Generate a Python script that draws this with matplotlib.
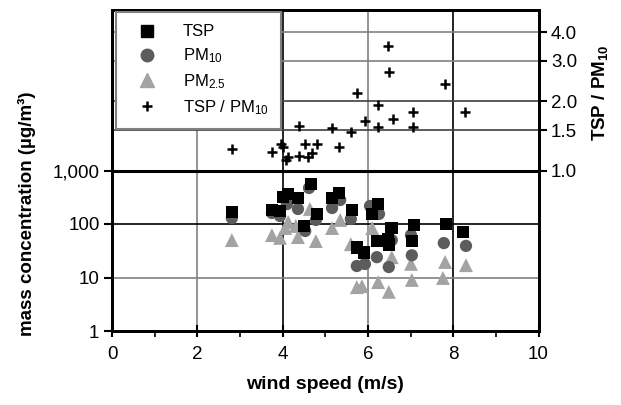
import matplotlib
matplotlib.use("Agg")
import matplotlib.pyplot as plt
from matplotlib.ticker import FixedLocator, FixedFormatter, NullLocator
from matplotlib.lines import Line2D

plt.rcParams['font.family'] = ['Liberation Sans', 'DejaVu Sans']
plt.rcParams['mathtext.fontset'] = 'custom'
plt.rcParams['mathtext.rm'] = 'Liberation Sans'
plt.rcParams['mathtext.it'] = 'Liberation Sans:italic'
plt.rcParams['mathtext.bf'] = 'Liberation Sans:bold'

# TSP (µg/m³)
tsp_ws = [2.81, 3.75, 3.94, 4.01, 4.13, 4.36, 4.50, 4.67, 4.81, 5.16, 5.32, 5.63,
          5.74, 5.91, 6.10, 6.21, 6.24, 6.47, 6.49, 6.56, 7.03, 7.08, 7.83, 8.23]
tsp = [168, 183, 175, 320, 364, 306, 92, 559, 154, 306, 380, 183,
       36, 29, 154, 48, 236, 52, 41, 84, 48, 96, 100, 71]

# PM10 (µg/m³)
pm10_ws = [2.81, 3.75, 3.94, 4.10, 4.36, 4.62, 4.78, 4.53, 5.16, 5.35, 5.60,
           5.74, 5.93, 6.05, 6.26, 6.21, 6.49, 6.56, 7.01, 7.03, 7.78, 8.30]
pm10 = [129, 161, 141, 236, 191, 471, 119, 74, 199, 281, 124,
        16.4, 17.9, 217, 154, 24, 15.7, 50, 62, 26, 44, 39]

# PM2.5 (µg/m³)
pm25_ws = [2.81, 3.75, 3.94, 4.06, 4.13, 4.31, 4.36, 4.64, 4.78, 5.16, 5.35, 5.60,
           5.74, 5.86, 6.10, 6.24, 6.49, 6.56, 7.01, 7.03, 7.81, 7.76, 8.30]
pm25 = [50, 62, 55, 84, 109, 92, 57, 191, 48, 84, 119, 42,
        6.6, 6.9, 84, 8.2, 5.4, 24, 18, 9.0, 19.5, 9.8, 17]

# TSP / PM10 ratio
ratio_ws = [2.81, 3.75, 3.96, 4.01, 4.08, 4.13, 4.38, 4.38, 4.53, 4.60, 4.69, 4.81, 5.16,
            5.32, 5.60, 5.74, 5.93, 6.24, 6.24, 6.47, 6.49, 6.59, 7.06, 7.06, 7.81, 8.28]
ratio = [1.24, 1.20, 1.30, 1.27, 1.11, 1.15, 1.16, 1.56, 1.31, 1.14, 1.19, 1.31, 1.53,
         1.27, 1.47, 2.17, 1.64, 1.92, 1.54, 3.49, 2.68, 1.67, 1.79, 1.54, 2.38, 1.79]

left_ticks = [1, 10, 100, 1000]
left_labels = ["1", "10", "100", "1,000"]
right_ticks = [1.0, 1.5, 2.0, 3.0, 4.0]
right_labels = ["1.0", "1.5", "2.0", "3.0", "4.0"]
x_ticks = [0, 2, 4, 6, 8, 10]

fig = plt.figure(figsize=(6.21, 4.05), dpi=100)
ax = fig.add_axes([112/621, 1-331/405, (538.5-112)/621, (331-10)/405])
ax2 = ax.twinx()

ax.set_xlim(0, 10)
ax.set_yscale('log')
ax.set_ylim(1, 1e6)
ax2.set_yscale('log')
ax2.set_ylim(0.2, 5.0)

# grid lines
gray = '#808080'
for xv, c in zip([2, 4, 6, 8], [gray, 'black', gray, 'black']):
    ax.axvline(xv, color=c, lw=1.2, zorder=1)
ax.axhline(10, color=gray, lw=1.2, zorder=1)
ax.axhline(100, color='black', lw=1.2, zorder=1)
ax.axhline(1000, color='black', lw=2.2, zorder=1)
for yv, c in zip([1.5, 2.0, 3.0, 4.0], ['#404040', '#404040', gray, gray]):
    ax2.axhline(yv, color=c, lw=1.2, zorder=1)

ax.scatter(pm25_ws, pm25, marker='^', s=100, color='#a3a3a3', edgecolors='none', zorder=3)
ax.scatter(pm10_ws, pm10, marker='o', s=78, color='#5c5c5c', edgecolors='none', zorder=4)
ax.scatter(tsp_ws, tsp, marker='s', s=82, color='black', edgecolors='none', zorder=5)
ax2.scatter(ratio_ws, ratio, marker='+', s=55, color='black', linewidths=1.8, zorder=5)

# ticks
ax.xaxis.set_major_locator(FixedLocator(x_ticks))
ax.xaxis.set_minor_locator(FixedLocator([1, 3, 5, 7, 9]))
ax.tick_params(axis='x', which='major', direction='inout', length=9, width=1.5, labelsize=13.5, pad=6)
ax.tick_params(axis='x', which='minor', direction='out', length=4, width=1.2)
ax.yaxis.set_major_locator(FixedLocator(left_ticks))
ax.yaxis.set_major_formatter(FixedFormatter(left_labels))
ax.yaxis.set_minor_locator(NullLocator())
ax.tick_params(axis='y', which='major', direction='out', length=6, width=1.5, labelsize=13.5, pad=3)
ax2.yaxis.set_major_locator(FixedLocator(right_ticks))
ax2.yaxis.set_major_formatter(FixedFormatter(right_labels))
ax2.yaxis.set_minor_locator(NullLocator())
ax2.tick_params(axis='y', which='major', direction='out', length=6, width=1.5, labelsize=13.5, pad=3)

for a in (ax, ax2):
    for sp in a.spines.values():
        sp.set_linewidth(2.0)
        sp.set_color('black')

ax.set_xlabel('wind speed (m/s)', fontsize=14, fontweight='bold', labelpad=10)
fig.text(27/621, 1-214/405, 'mass concentration (µg/m³)', rotation=90, fontsize=13.5,
         fontweight='bold', ha='center', va='center')
fig.text(600/621, 1-93/405, 'TSP / PM$_{\\mathbf{10}}$', rotation=90, fontsize=13.5,
         fontweight='bold', ha='center', va='center')

handles = [
    Line2D([], [], marker='s', ls='none', color='black', markersize=9),
    Line2D([], [], marker='o', ls='none', color='#5c5c5c', markersize=9),
    Line2D([], [], marker='^', ls='none', color='#a3a3a3', markersize=10),
    Line2D([], [], marker='+', ls='none', color='black', markersize=7.5, markeredgewidth=1.8),
]
labels = ['TSP', 'PM$_{\\mathrm{10}}$', 'PM$_{\\mathrm{2.5}}$', 'TSP / PM$_{\\mathrm{10}}$']
leg = ax2.legend(handles, labels, loc='upper left', bbox_to_anchor=(116/621, 1-12/405),
                 bbox_transform=fig.transFigure, fancybox=False, framealpha=1,
                 edgecolor=gray, fontsize=12, borderpad=0.75, labelspacing=0.42,
                 handletextpad=1.07, borderaxespad=0, handlelength=2.2)
leg.get_frame().set_linewidth(1.5)
leg.set_zorder(10)

fig.savefig('out.png', dpi=100)
